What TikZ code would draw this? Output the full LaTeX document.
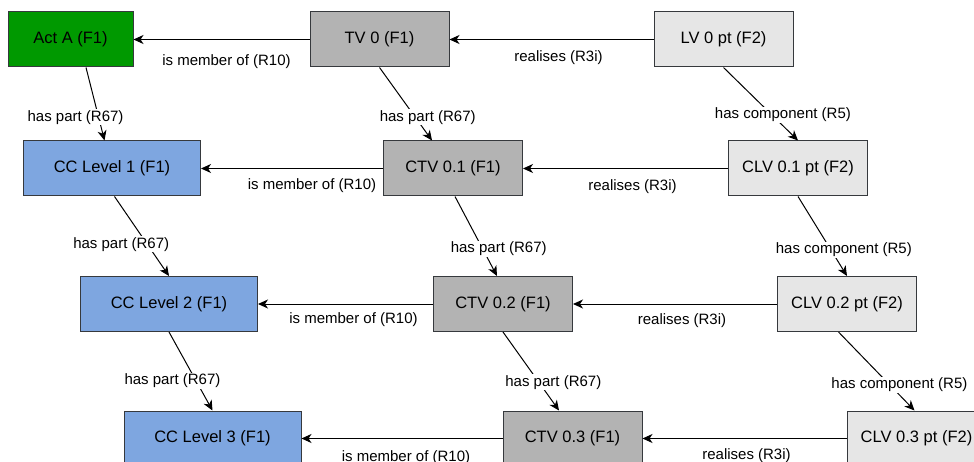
\documentclass[tikz,border=0pt]{standalone}
\usepackage{fontspec}
\setmainfont{Liberation Sans}
\usetikzlibrary{arrows.meta,positioning}
\definecolor{actgreen}{RGB}{0,153,0}
\definecolor{ccblue}{RGB}{126,166,224}
\definecolor{tvgray}{RGB}{179,179,179}
\definecolor{lvgray}{RGB}{230,230,230}
\definecolor{edgegray}{RGB}{54,57,61}

\begin{document}
\begin{tikzpicture}[x=1pt, y=-1pt, line width=1pt,
box/.style={rectangle, draw=edgegray, minimum width=139pt, minimum height=55pt,
  inner sep=0pt, font=\fontsize{16.5}{18}\selectfont},
actbox/.style={box, fill=actgreen, minimum width=125pt},
ccbox/.style={box, fill=ccblue, minimum width=177pt},
tvbox/.style={box, fill=tvgray},
lvbox/.style={box, fill=lvgray},
rel/.style={draw=black, -{Stealth[length=10pt, width=9pt, inset=3pt]}},
lbl/.style={fill=white, inner sep=1pt, font=\fontsize{15}{17}\selectfont}]

\clip (0,0) rectangle (974,462);

% row 1
\node [tvbox] (tv0) at (379.5,39.5) {TV 0 (F1)};
\node [actbox] (actA) [left=176pt of tv0] {Act A (F1)};
\node [lvbox] (lv0) [right=204pt of tv0] {LV 0 pt (F2)};
\path [rel] (tv0) -- node [lbl, yshift=-22pt, xshift=5pt] {is member of (R10)} (actA);
\path [rel] (lv0) -- node [lbl, yshift=-18pt, xshift=7pt] {realises (R3i)} (tv0);

% row 2
\node [tvbox] (ctv1) at (453,168.5) {CTV 0.1 (F1)};
\node [ccbox] (cc1) [left=182pt of ctv1] {CC Level 1 (F1)};
\node [lvbox] (clv1) [right=205pt of ctv1] {CLV 0.1 pt (F2)};
\path [rel] (ctv1) -- node [lbl, yshift=-17pt, xshift=20pt] {is member of (R10)} (cc1);
\path [rel] (clv1) -- node [lbl, yshift=-18pt, xshift=7pt] {realises (R3i)} (ctv1);

% row 3
\node [tvbox] (ctv2) at (503,304) {CTV 0.2 (F1)};
\node [ccbox] (cc2) [left=175pt of ctv2] {CC Level 2 (F1)};
\node [lvbox] (clv2) [right=204pt of ctv2] {CLV 0.2 pt (F2)};
\path [rel] (ctv2) -- node [lbl, yshift=-16pt, xshift=8pt] {is member of (R10)} (cc2);
\path [rel] (clv2) -- node [lbl, yshift=-17pt, xshift=7pt] {realises (R3i)} (ctv2);

% row 4
\node [tvbox] (ctv3) at (572.5,438.5) {CTV 0.3 (F1)};
\node [ccbox] (cc3) [left=201pt of ctv3] {CC Level 3 (F1)};
\node [lvbox] (clv3) [right=204pt of ctv3] {CLV 0.3 pt (F2)};
\path [rel] (ctv3) -- node [lbl, yshift=-19.5pt, xshift=4pt] {is member of (R10)} (cc3);
\path [rel] (clv3) -- node [lbl, yshift=-17.5pt, xshift=2pt] {realises (R3i)} (ctv3);

% down the columns
\path [rel] ([xshift=15.5pt]actA.south) -- node [lbl, pos=0.68, xshift=-23pt] {has part (R67)} ([xshift=-7.5pt]cc1.north);
\path [rel] (tv0.south) -- node [lbl, pos=0.68, xshift=12.5pt] {has part (R67)} ([xshift=-21pt]ctv1.north);
\path [rel] (lv0.south) -- node [lbl, pos=0.65, xshift=11pt] {has component (R5)} (clv1.north);

\path [rel] ([xshift=2.5pt]cc1.south) -- node [lbl, pos=0.6, xshift=-26pt] {has part (R67)} (cc2.north);
\path [rel] ([xshift=2pt]ctv1.south) -- node [lbl, pos=0.66, xshift=16pt] {has part (R67)} ([xshift=-6pt]ctv2.north);
\path [rel] (clv1.south) -- node [lbl, pos=0.67, xshift=13pt] {has component (R5)} (clv2.north);

\path [rel] (cc2.south) -- node [lbl, pos=0.62, xshift=-23.5pt] {has part (R67)} (cc3.north);
\path [rel] (ctv2.south) -- node [lbl, pos=0.64, xshift=14.5pt] {has part (R67)} ([xshift=-13.5pt]ctv3.north);
\path [rel] ([xshift=-8.5pt]clv2.south) -- node [lbl, pos=0.67, xshift=10pt] {has component (R5)} ([xshift=-2pt]clv3.north);
\end{tikzpicture}
\end{document}
